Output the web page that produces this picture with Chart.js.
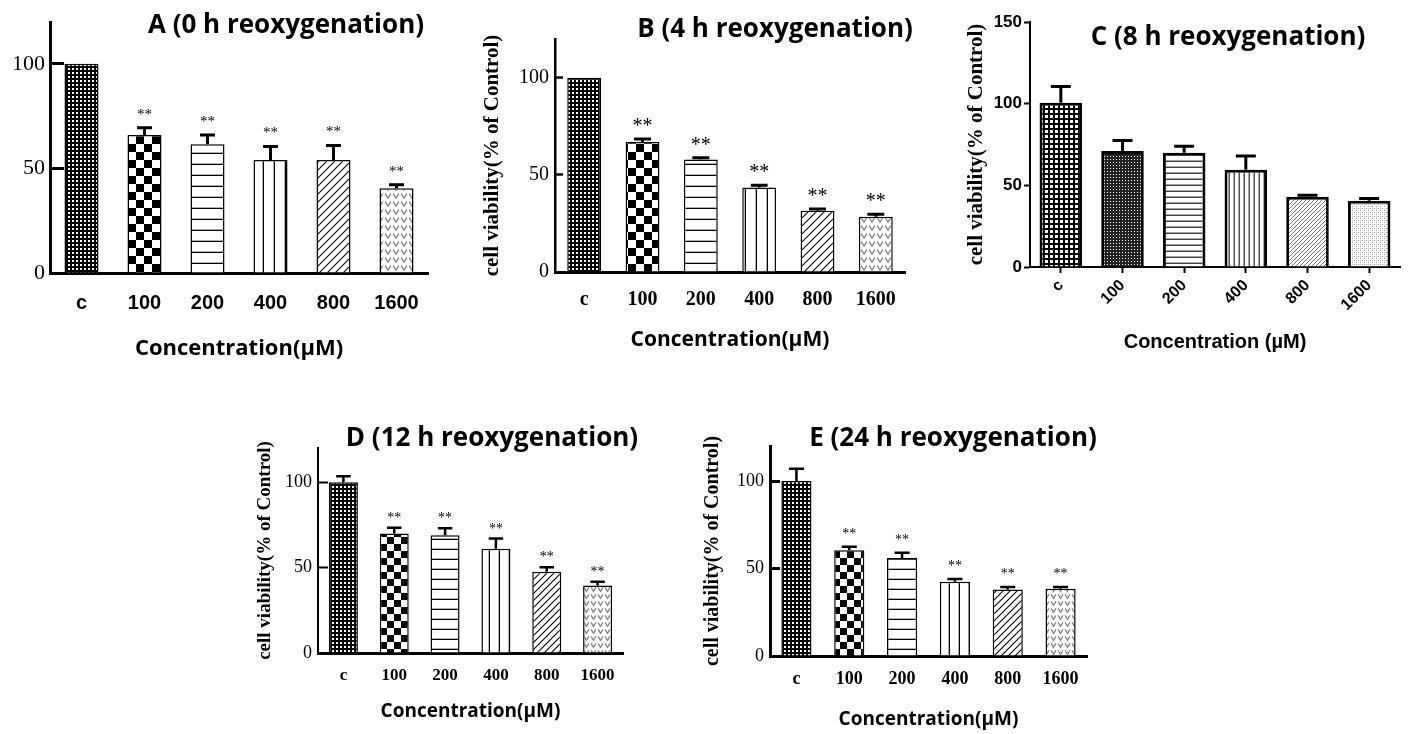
<!DOCTYPE html>
<html lang="en">
<head>
<meta charset="UTF-8">
<title>Cell viability after reoxygenation</title>
<script src="https://cdn.jsdelivr.net/npm/chart.js@4"></script>
<style>
  body { margin: 0; background: #fff; }
  #fig { position: relative; width: 1409px; height: 734px; overflow: hidden; background: #fff; }
  .panel { position: absolute; }
  .ttl { position: absolute; white-space: nowrap; transform: translateX(-50%);
         font-family: "Open Sans", sans-serif; font-weight: 700; font-size: 26px;
         color: #000; line-height: 30px; height: 30px; }
</style>
</head>
<body>
<div id="fig"></div>
<script>
// ---- data ----
const categories = ['c', '100', '200', '400', '800', '1600'];
const yTicks120 = [0, 50, 100];
const yTicks150 = [0, 50, 100, 150];

const valuesA = [100, 66, 61.5, 54, 54, 40.5];
const errorsA = [0, 3.5, 4.5, 6.5, 7, 1.7];
const starsA = ['', '**', '**', '**', '**', '**'];

const valuesB = [100, 67, 58, 43.5, 31.5, 28.5];
const errorsB = [0, 1.5, 0.8, 1.2, 1, 1.2];
const starsB = ['', '**', '**', '**', '**', '**'];

const valuesC = [100.5, 71, 70, 59.5, 43, 40.5];
const errorsC = [10, 6.5, 4, 8.5, 1, 1.5];
const starsC = ['', '', '', '', '', ''];

const valuesD = [100, 70, 69, 61, 47.5, 39.5];
const errorsD = [3.5, 3.3, 4, 6, 2.7, 2.2];
const starsD = ['', '**', '**', '**', '**', '**'];

const valuesE = [100, 60.5, 56, 42.5, 38, 38.5];
const errorsE = [7, 2, 3, 1.5, 1.5, 1];
const starsE = ['', '**', '**', '**', '**', '**'];

const yTitle = 'cell viability(% of Control)';
const xTitle = 'Concentration(\u00b5M)';
const xTitleC = 'Concentration (\u00b5M)';

// ---- fill patterns ----
function pat(w, h, draw) {
    const c = document.createElement('canvas');
    c.width = w; c.height = h;
    const g = c.getContext('2d');
    g.fillStyle = '#fff';
    g.fillRect(0, 0, w, h);
    draw(g, w, h);
    return g.createPattern(c, 'repeat');
}
function grid(t, s, bg) { // dark background with white squares
    return pat(t, t, g => { g.fillStyle = bg || '#000'; g.fillRect(0, 0, t, t); g.fillStyle = '#fff'; g.fillRect(0, 0, s, s); });
}
function checker(n) {
    return pat(2 * n, 2 * n, g => { g.fillStyle = '#000'; g.fillRect(0, 0, n, n); g.fillRect(n, n, n, n); });
}
function hlines(p, col, lw) {
    return pat(4, p, g => { g.fillStyle = col; g.fillRect(0, p - lw, 4, lw); });
}
function vlines(p, col, lw) {
    return pat(p, 4, g => { g.fillStyle = col; g.fillRect(p - lw, 0, lw, 4); });
}
function diag(p, col, lw) {
    return pat(p, p, g => {
        g.strokeStyle = col; g.lineWidth = lw;
        g.beginPath();
        g.moveTo(-1, p + 1); g.lineTo(p + 1, -1);
        g.moveTo(-1, 1); g.lineTo(1, -1);
        g.moveTo(p - 1, p + 1); g.lineTo(p + 1, p - 1);
        g.stroke();
    });
}
function hearts(w) {
    return pat(w, w, g => {
        g.strokeStyle = '#808080'; g.lineWidth = 1.3;
        g.beginPath();
        g.moveTo(w * 0.15, w * 0.2); g.lineTo(w * 0.5, w * 0.75); g.lineTo(w * 0.85, w * 0.2);
        g.stroke();
    });
}
function speckle(t) {
    return pat(t, t, g => { g.fillStyle = '#9a9a9a'; g.fillRect(0, 0, 1, 1); g.fillRect(t / 2, t / 2, 1, 1); g.fillStyle = '#d0d0d0'; g.fillRect(t / 2, 0, 1, 1); });
}

const fillsStd = (n, hl, vl, dg, ht) => [grid(4, 2), checker(n), hlines(hl, '#000', 1.3), vlines(vl, '#000', 1.3), diag(dg, '#000', 1.1), hearts(ht)];

// ---- error bars and significance marks ----
const errorBarPlugin = {
    id: 'errorBars',
    afterDatasetsDraw(chart, args, o) {
        const ctx = chart.ctx;
        const y = chart.scales.y;
        const ds = chart.data.datasets[0];
        const bars = chart.getDatasetMeta(0).data;
        ctx.save();
        ctx.strokeStyle = '#000';
        ctx.lineWidth = o.lineWidth;
        bars.forEach((bar, i) => {
            const v = ds.data[i], e = ds.errors[i];
            const yv = y.getPixelForValue(v);
            const ye = y.getPixelForValue(v + e);
            if (e > 0) {
                const half = bar.width * o.cap / 2;
                ctx.beginPath();
                ctx.moveTo(bar.x, yv); ctx.lineTo(bar.x, ye);
                ctx.moveTo(bar.x - half, ye); ctx.lineTo(bar.x + half, ye);
                ctx.stroke();
            }
            if (ds.stars[i]) {
                ctx.fillStyle = '#000';
                ctx.font = o.starFont;
                ctx.textAlign = 'center';
                ctx.textBaseline = 'alphabetic';
                ctx.fillText(ds.stars[i], bar.x, ye - o.starGap);
            }
        });
        ctx.restore();
    }
};

const SERIF = '"Liberation Serif", "Times New Roman", serif';
const SANS = '"Liberation Sans", Arial, sans-serif';
const OPEN = '"Open Sans", sans-serif';

const panels = [
    { title: 'A (0 h reoxygenation)', tpos: [286, 24], box: [0, 0, 470, 370], area: [50, 22, 428, 273],
      values: valuesA, errors: errorsA, stars: starsA, ticks: yTicks120, yMax: 120,
      fills: fillsStd(8, 11, 11, 8, 8), barPct: 0.54, barBorder: 1.5, yAxisW: 3, xAxisW: 3,
      yTickLen: -14, yTickPad: 19, yTickFont: { family: SERIF, size: 22 },
      xTickFont: { family: SANS, size: 20, weight: 'bold' }, xTickPad: 18, xTickLen: 0, rot: 0,
      xTitle: xTitle, xTitleFont: { family: OPEN, size: 22, weight: 'bold' }, xTitlePad: 8,
      yTitle: '', errW: 3, cap: 0.44, starFont: '15px ' + SERIF, starGap: 9 },
    { title: 'B (4 h reoxygenation)', tpos: [775, 28], box: [460, 0, 470, 370], area: [555, 39, 905, 272],
      values: valuesB, errors: errorsB, stars: starsB, ticks: yTicks120, yMax: 120,
      fills: fillsStd(8, 11, 11, 8, 8), barPct: 0.58, barBorder: 1.5, yAxisW: 2.5, xAxisW: 3,
      yTickLen: -8, yTickPad: 14, yTickFont: { family: SERIF, size: 20 },
      xTickFont: { family: SERIF, size: 20, weight: 'bold' }, xTickPad: 16, xTickLen: 0, rot: 0,
      xTitle: xTitle, xTitleFont: { family: OPEN, size: 21, weight: 'bold' }, xTitlePad: 17,
      yTitle: yTitle, yTitleFont: { family: SERIF, size: 21, weight: 'bold' }, yTitlePad: 20,
      errW: 3, cap: 0.5, starFont: '20px ' + SERIF, starGap: 7 },
    { title: 'C (8 h reoxygenation)', tpos: [1228, 36], box: [930, 0, 479, 370], area: [1030, 22, 1400, 267],
      values: valuesC, errors: errorsC, stars: starsC, ticks: yTicks150, yMax: 150,
      fills: [grid(5, 3), grid(3, 1, '#222'), hlines(6, '#444', 1.5), vlines(5, '#555', 1.5), diag(4, '#777', 1), speckle(4)],
      barPct: 0.69, barBorder: 3, yAxisW: 2, xAxisW: 2,
      yTickLen: 6, yTickPad: 2, yTickFont: { family: SANS, size: 17, weight: 'bold' },
      xTickFont: { family: SANS, size: 16, weight: 'bold' }, xTickPad: 3, xTickLen: 6, rot: 45,
      xTitle: xTitleC, xTitleFont: { family: SANS, size: 20, weight: 'bold' }, xTitlePad: 16,
      yTitle: yTitle, yTitleFont: { family: SERIF, size: 21, weight: 'bold' }, yTitlePad: 34,
      errW: 3, cap: 0.47, starFont: '15px ' + SERIF, starGap: 8 },
    { title: 'D (12 h reoxygenation)', tpos: [492, 437], box: [240, 390, 420, 340], area: [318, 448, 623, 653],
      values: valuesD, errors: errorsD, stars: starsD, ticks: yTicks120, yMax: 120,
      fills: fillsStd(7, 10, 10, 7, 7), barPct: 0.57, barBorder: 1.5, yAxisW: 2, xAxisW: 3,
      yTickLen: -10, yTickPad: 16, yTickFont: { family: SERIF, size: 18 },
      xTickFont: { family: SERIF, size: 17, weight: 'bold' }, xTickPad: 12, xTickLen: 0, rot: 0,
      xTitle: xTitle, xTitleFont: { family: OPEN, size: 19, weight: 'bold' }, xTitlePad: 7,
      yTitle: yTitle, yTitleFont: { family: SERIF, size: 19, weight: 'bold' }, yTitlePad: 14,
      errW: 2.5, cap: 0.5, starFont: '14px ' + SERIF, starGap: 6 },
    { title: 'E (24 h reoxygenation)', tpos: [953, 437], box: [700, 390, 420, 344], area: [770, 446, 1087, 656],
      values: valuesE, errors: errorsE, stars: starsE, ticks: yTicks120, yMax: 120,
      fills: fillsStd(7, 10, 10, 7, 7), barPct: 0.57, barBorder: 1.5, yAxisW: 3, xAxisW: 3,
      yTickLen: -10, yTickPad: 16, yTickFont: { family: SERIF, size: 18 },
      xTickFont: { family: SERIF, size: 18, weight: 'bold' }, xTickPad: 13, xTickLen: 0, rot: 0,
      xTitle: xTitle, xTitleFont: { family: OPEN, size: 19, weight: 'bold' }, xTitlePad: 3,
      yTitle: yTitle, yTitleFont: { family: SERIF, size: 20, weight: 'bold' }, yTitlePad: 1,
      errW: 2.5, cap: 0.5, starFont: '14px ' + SERIF, starGap: 9 }
];

const fig = document.getElementById('fig');

function buildPanel(p) {
    const [bx, by, bw, bh] = p.box;
    const [L, T, R, B] = p.area;
    const wrap = document.createElement('div');
    wrap.className = 'panel';
    wrap.style.left = bx + 'px';
    wrap.style.top = by + 'px';
    wrap.style.width = bw + 'px';
    wrap.style.height = bh + 'px';
    const cv = document.createElement('canvas');
    cv.width = bw; cv.height = bh;
    cv.style.width = bw + 'px'; cv.style.height = bh + 'px';
    wrap.appendChild(cv);
    fig.appendChild(wrap);

    const t = document.createElement('div');
    t.className = 'ttl';
    t.textContent = p.title;
    t.style.left = p.tpos[0] + 'px';
    t.style.top = (p.tpos[1] - 16) + 'px';
    fig.appendChild(t);

    const yW = L - bx, xH = by + bh - B;

    new Chart(cv, {
        type: 'bar',
        data: {
            labels: categories,
            datasets: [{
                data: p.values,
                errors: p.errors,
                stars: p.stars,
                backgroundColor: p.fills,
                borderColor: '#000',
                borderWidth: p.barBorder,
                categoryPercentage: 1,
                barPercentage: p.barPct
            }]
        },
        options: {
            responsive: false,
            animation: false,
            events: [],
            layout: { padding: { left: 0, top: T - by, right: bx + bw - R, bottom: 0 } },
            plugins: {
                legend: { display: false },
                tooltip: { enabled: false },
                errorBars: { lineWidth: p.errW, cap: p.cap, starFont: p.starFont, starGap: p.starGap }
            },
            scales: {
                x: {
                    afterFit: s => { s.height = xH; s.paddingLeft = 0; s.paddingRight = 0; },
                    border: { display: true, color: '#000', width: p.xAxisW },
                    grid: { display: true, drawOnChartArea: false, offset: false,
                            drawTicks: p.xTickLen > 0, tickLength: p.xTickLen,
                            color: '#000', tickColor: '#000', tickWidth: p.xAxisW },
                    ticks: { color: '#000', font: p.xTickFont, padding: p.xTickPad, autoSkip: false,
                             minRotation: p.rot, maxRotation: p.rot },
                    title: { display: true, text: p.xTitle, color: '#000', font: p.xTitleFont,
                             padding: { top: 0, bottom: p.xTitlePad } }
                },
                y: {
                    min: 0, max: p.yMax,
                    afterBuildTicks: s => { s.ticks = p.ticks.map(v => ({ value: v })); },
                    afterFit: s => { s.width = yW; s.paddingTop = 0; s.paddingBottom = 0; },
                    border: { display: true, color: '#000', width: p.yAxisW },
                    grid: { display: true, drawOnChartArea: false, drawTicks: true, tickLength: p.yTickLen,
                            color: '#000', tickColor: '#000', tickWidth: p.yAxisW },
                    ticks: { color: '#000', font: p.yTickFont, padding: p.yTickPad },
                    title: { display: !!p.yTitle, text: p.yTitle, color: '#000', font: p.yTitleFont,
                             padding: { top: p.yTitlePad || 0, bottom: 0 } }
                }
            }
        },
        plugins: [errorBarPlugin]
    });
}

panels.forEach(buildPanel);
</script>
</body>
</html>
